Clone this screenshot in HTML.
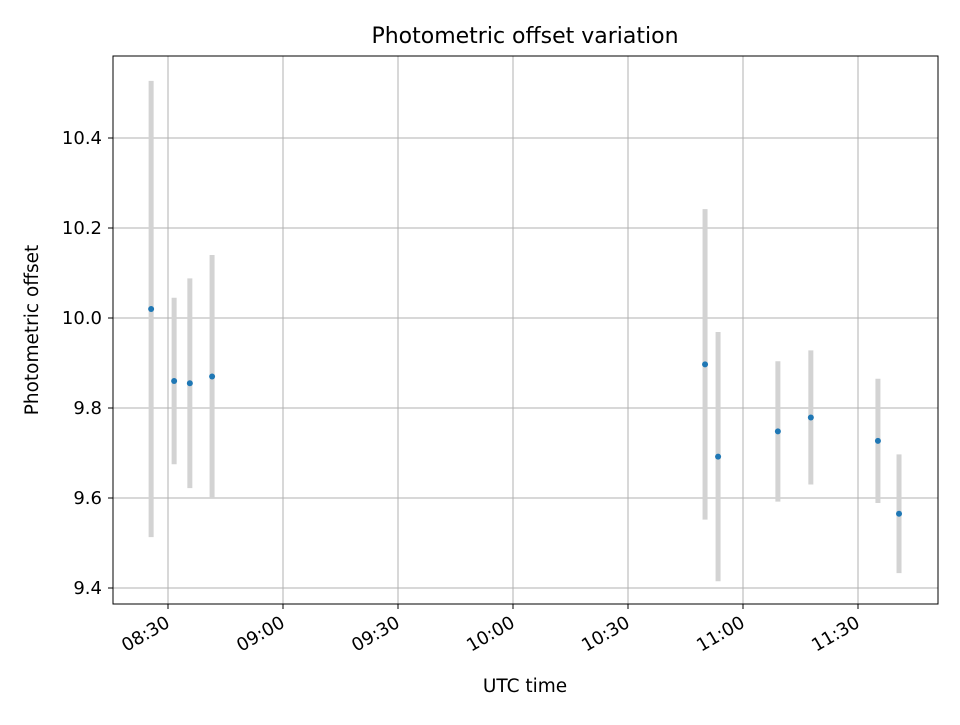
<!DOCTYPE html>
<html><head><meta charset="utf-8"><style>
body{margin:0;background:#fff;}
svg text{font-family:"DejaVu Sans","Liberation Sans",sans-serif;fill:#000;}
</style></head><body>
<svg id="chart" width="960" height="720" xmlns="http://www.w3.org/2000/svg">
<rect width="960" height="720" fill="#fff"/>
<text x="525" y="43" style="font-size:22px" text-anchor="middle">Photometric offset variation</text>
<g id="grid"></g><g id="marks"></g>
<rect x="113" y="56" width="825" height="548" fill="none" stroke="#000" stroke-width="1"/>
<g id="axes"></g>
<text x="525" y="692" style="font-size:18.5px" text-anchor="middle">UTC time</text>
<text transform="translate(38,330) rotate(-90)" style="font-size:18.5px" text-anchor="middle">Photometric offset</text>
</svg>
<script>
// times as minutes after 08:00
const times=[25.6,31.6,35.7,41.5,170.1,173.5,189.1,197.7,215.2,220.7];
const values=[10.02,9.86,9.855,9.87,9.897,9.692,9.748,9.779,9.727,9.565];
const errors=[0.507,0.185,0.233,0.27,0.345,0.277,0.156,0.149,0.138,0.132];
const yTicks=[9.4,9.6,9.8,10.0,10.2,10.4];
const xTicks=[30,60,90,120,150,180,210];
const xTickLabels=["08:30","09:00","09:30","10:00","10:30","11:00","11:30"];
const NS="http://www.w3.org/2000/svg";
const X=m=>168+(m-30)*115/30;
const Y=v=>588-(v-9.4)*450;
function mk(tag,attrs,parent){const e=document.createElementNS(NS,tag);for(const k in attrs)e.setAttribute(k,attrs[k]);document.getElementById(parent).appendChild(e);return e;}
yTicks.forEach(v=>{
 const g=mk('line',{x1:113,x2:938,y1:Y(v),y2:Y(v),stroke:'#b0b0b0','stroke-width':1},'grid');
 
 const t=mk('line',{x1:108,x2:113,y1:Y(v),y2:Y(v),stroke:'#000'},'axes');
 
 const l=mk('text',{x:102,y:Y(v)+6,style:'font-size:18px','text-anchor':'end'},'axes');
 l.textContent=v.toFixed(1);
 
});
xTicks.forEach((m,i)=>{
 const g=mk('line',{x1:X(m),x2:X(m),y1:56,y2:604,stroke:'#b0b0b0','stroke-width':1},'grid');
 
 const t=mk('line',{x1:X(m),x2:X(m),y1:604,y2:609,stroke:'#000'},'axes');
 
 const l=mk('text',{x:X(m)+3,y:626,style:'font-size:18px','text-anchor':'end',transform:`rotate(-30 ${X(m)+3} 626)`},'axes');
 l.textContent=xTickLabels[i];
 
});
times.forEach((m,i)=>{
 const b=mk('line',{x1:X(m),x2:X(m),y1:Y(values[i]-errors[i]),y2:Y(values[i]+errors[i]),stroke:'#d3d3d3','stroke-width':5},'marks');
 
});
times.forEach((m,i)=>{
 const p=mk('circle',{cx:X(m),cy:Y(values[i]),r:3,fill:'#1f77b4'},'marks');
 
});
</script>
</body></html>
